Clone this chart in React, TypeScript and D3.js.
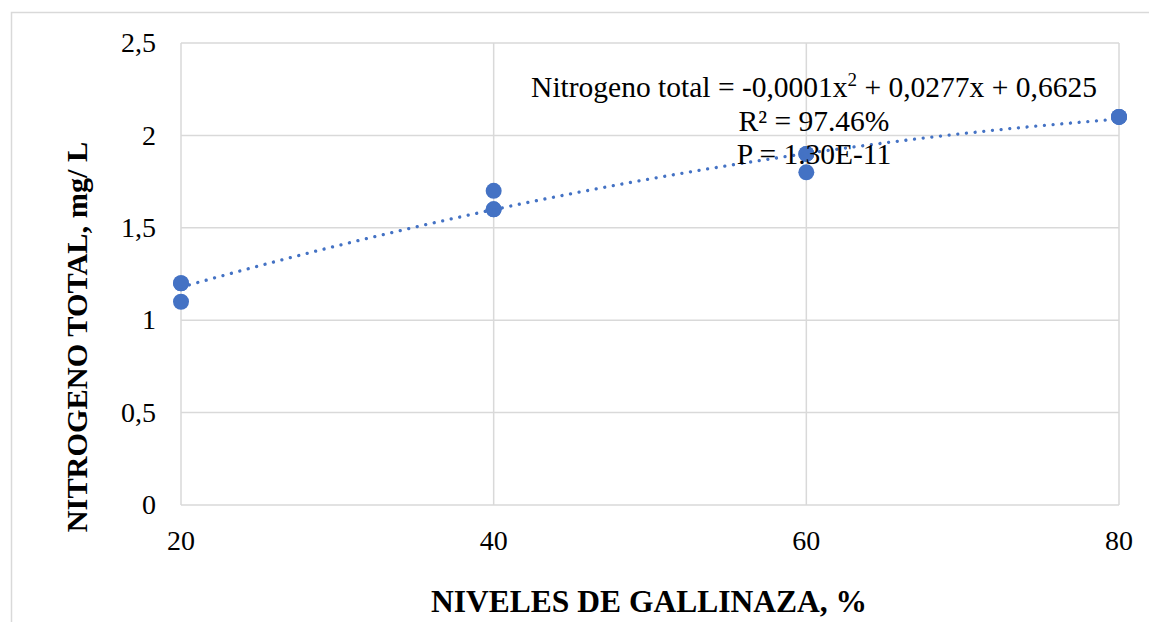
import React from "react";
import * as d3 from "d3";

const xLevels = [20, 40, 60, 80];
const yTicks = [0, 0.5, 1, 1.5, 2, 2.5];
const yTickLabels = ["0", "0,5", "1", "1,5", "2", "2,5"];
const pointsX = [20, 20, 20, 40, 40, 40, 60, 60, 60, 80, 80, 80];
const pointsY = [1.2, 1.1, 1.2, 1.7, 1.6, 1.6, 1.9, 1.8, 1.9, 2.1, 2.1, 2.1];
const equationLines = ["R² = 97.46%", "P = 1.30E-11"];

const W = 1149;
const H = 622;
const M = { left: 181, right: 1119, top: 43, bottom: 505 };
const BLUE = "#4472C4";
const GRID = "#d9d9d9";
const FONT = "Liberation Serif, Times New Roman, serif";

function quadFit(xs: number[], ys: number[]) {
  const n = xs.length;
  let s0 = n, s1 = 0, s2 = 0, s3 = 0, s4 = 0, t0 = 0, t1 = 0, t2 = 0;
  for (let i = 0; i < n; i++) {
    const x = xs[i], y = ys[i];
    s1 += x; s2 += x * x; s3 += x * x * x; s4 += x * x * x * x;
    t0 += y; t1 += x * y; t2 += x * x * y;
  }
  const A = [
    [s4, s3, s2, t2],
    [s3, s2, s1, t1],
    [s2, s1, s0, t0],
  ];
  for (let i = 0; i < 3; i++) {
    let p = i;
    for (let r = i + 1; r < 3; r++) if (Math.abs(A[r][i]) > Math.abs(A[p][i])) p = r;
    [A[i], A[p]] = [A[p], A[i]];
    for (let r = 0; r < 3; r++) {
      if (r === i) continue;
      const f = A[r][i] / A[i][i];
      for (let c = i; c < 4; c++) A[r][c] -= f * A[i][c];
    }
  }
  return { a: A[0][3] / A[0][0], b: A[1][3] / A[1][1], c: A[2][3] / A[2][2] };
}

export default function App() {
  const x = d3.scaleLinear().domain([20, 80]).range([M.left, M.right]);
  const y = d3.scaleLinear().domain([0, 2.5]).range([M.bottom, M.top]);
  const fit = quadFit(pointsX, pointsY);
  const curveXs = d3.range(20, 80.001, 0.5);
  const line = d3
    .line<number>()
    .x((d) => x(d))
    .y((d) => y(fit.a * d * d + fit.b * d + fit.c));

  return (
    <svg
      width={W}
      height={H}
      style={{ position: "absolute", left: 0, top: 0, background: "#fff", fontFamily: FONT }}
    >
      <path d={`M11.5,${H} L11.5,12.5 L${W},12.5`} fill="none" stroke={GRID} strokeWidth={1.5} />

      {yTicks.map((t) => (
        <line key={"h" + t} x1={M.left} x2={M.right} y1={y(t)} y2={y(t)} stroke={GRID} strokeWidth={1.5} />
      ))}
      {xLevels.map((t) => (
        <line key={"v" + t} x1={x(t)} x2={x(t)} y1={M.top} y2={M.bottom} stroke={GRID} strokeWidth={1.5} />
      ))}

      {yTicks.map((t, i) => (
        <text key={"yl" + t} x={156} y={y(t)} dy="0.33em" textAnchor="end" fontSize={28} fill="#000">
          {yTickLabels[i]}
        </text>
      ))}
      {xLevels.map((t) => (
        <text key={"xl" + t} x={x(t)} y={550} textAnchor="middle" fontSize={28} fill="#000">
          {t}
        </text>
      ))}

      {pointsX.map((px, i) => (
        <circle key={"p" + i} cx={x(px)} cy={y(pointsY[i])} r={8} fill={BLUE} />
      ))}

      <path
        d={line(curveXs) || ""}
        fill="none"
        stroke={BLUE}
        strokeWidth={3.3}
        strokeLinecap="round"
        strokeDasharray="0.01 8.7"
      />

      <text x={814} y={97} textAnchor="middle" fontSize={29.5} fill="#000">
        Nitrogeno total = -0,0001x
        <tspan fontSize={19} dy={-11}>2</tspan>
        <tspan dy={11}> + 0,0277x + 0,6625</tspan>
      </text>
      {equationLines.map((s, i) => (
        <text key={"eq" + i} x={814} y={131 + i * 33} textAnchor="middle" fontSize={29.5} fill="#000">
          {s}
        </text>
      ))}

      <text x={649} y={612} textAnchor="middle" fontSize={31.5} fontWeight="bold" fill="#000">
        NIVELES DE GALLINAZA, %
      </text>
      <text
        transform={`translate(87, 337) rotate(-90)`}
        textAnchor="middle"
        fontSize={30.3}
        fontWeight="bold"
        fill="#000"
      >
        NITROGENO TOTAL, mg/ L
      </text>
    </svg>
  );
}
